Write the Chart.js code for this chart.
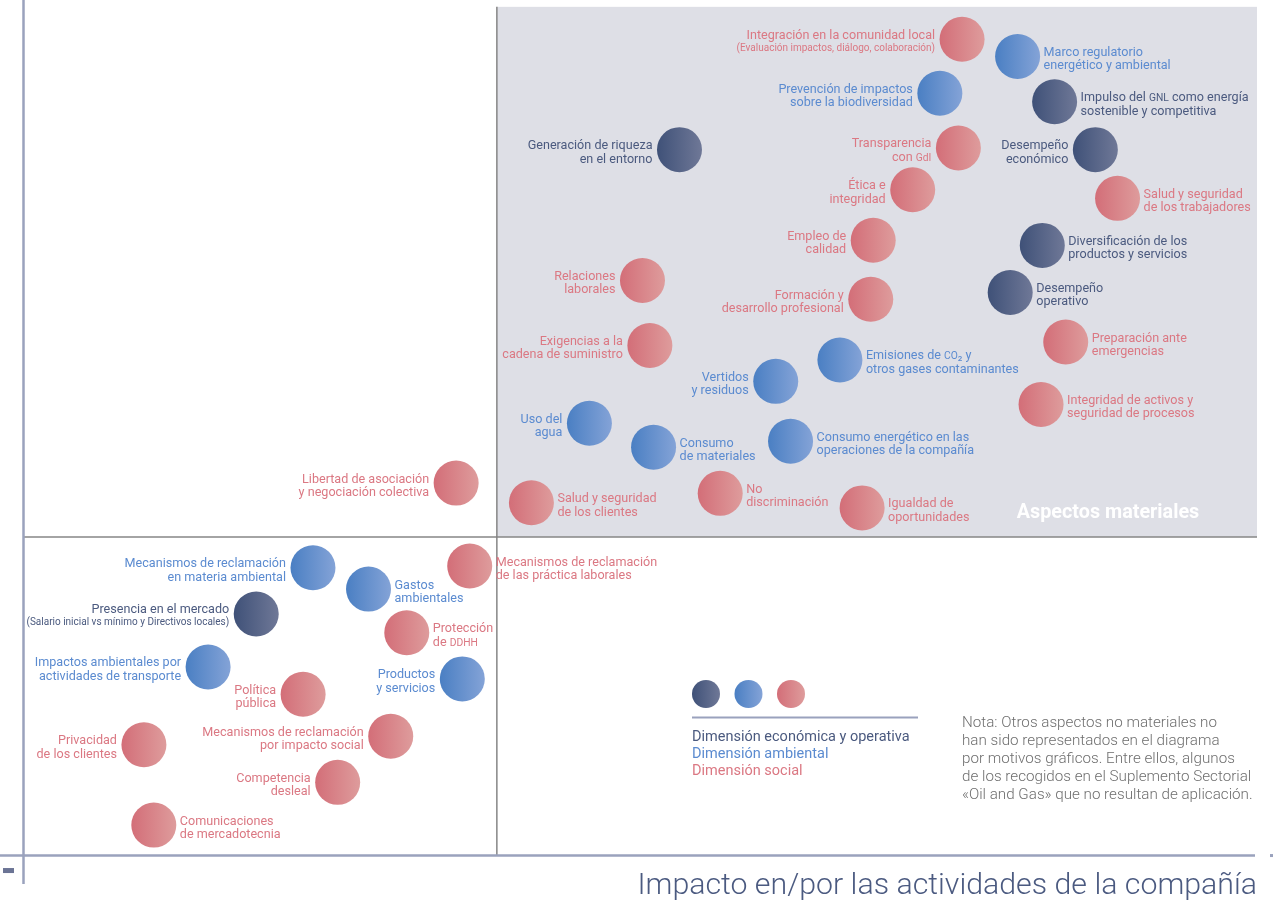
<!DOCTYPE html>
<html>
<head>
<meta charset="utf-8">
<script src="https://cdn.jsdelivr.net/npm/chart.js@4.4.1/dist/chart.umd.min.js"></script>
<style>
html,body{margin:0;padding:0;background:#ffffff;}
#wrap{width:1275px;height:902px;position:relative;}
</style>
</head>
<body>
<div id="wrap"><canvas id="c" width="1275" height="902"></canvas></div>
<script>
// ---------------- DATA ----------------
const aspectNames = [
  "Integración en la comunidad local",
  "Marco regulatorio\nenergético y ambiental",
  "Prevención de impactos\nsobre la biodiversidad",
  "Impulso del {GNL} como energía\nsostenible y competitiva",
  "Generación de riqueza\nen el entorno",
  "Transparencia\ncon {GdI}",
  "Desempeño\neconómico",
  "Ética e\nintegridad",
  "Salud y seguridad\nde los trabajadores",
  "Empleo de\ncalidad",
  "Diversificación de los\nproductos y servicios",
  "Relaciones\nlaborales",
  "Formación y\ndesarrollo profesional",
  "Desempeño\noperativo",
  "Exigencias a la\ncadena de suministro",
  "Preparación ante\nemergencias",
  "Emisiones de {CO}₂ y\notros gases contaminantes",
  "Vertidos\ny residuos",
  "Integridad de activos y\nseguridad de procesos",
  "Uso del\nagua",
  "Consumo\nde materiales",
  "Consumo energético en las\noperaciones de la compañía",
  "Libertad de asociación\ny negociación colectiva",
  "Salud y seguridad\nde los clientes",
  "No\ndiscriminación",
  "Igualdad de\noportunidades",
  "Mecanismos de reclamación\nen materia ambiental",
  "Mecanismos de reclamación\nde las práctica laborales",
  "Gastos\nambientales",
  "Presencia en el mercado",
  "Protección\nde {DDHH}",
  "Impactos ambientales por\nactividades de transporte",
  "Productos\ny servicios",
  "Política\npública",
  "Mecanismos de reclamación\npor impacto social",
  "Privacidad\nde los clientes",
  "Competencia\ndesleal",
  "Comunicaciones\nde mercadotecnia"
];
const aspectNotes = {
  0: "(Evaluación impactos, diálogo, colaboración)",
  29: "(Salario inicial vs mínimo y Directivos locales)"
};
// dimension: 0 = económica y operativa, 1 = ambiental, 2 = social
const aspectDimension = [2,1,1,0,0,2,0,2,2,2,0,2,2,0,2,2,1,1,2,1,1,1,2,2,2,2,1,2,1,0,2,1,1,2,2,2,2,2];
// X: impacto en/por las actividades de la compañía
const impactValues = [76.1,80.6,74.3,83.6,53.2,75.8,86.9,72.1,88.7,68.9,82.6,50.2,68.7,80.0,50.8,84.5,66.2,61.0,82.5,45.9,51.1,62.2,35.1,41.2,56.5,68.0,23.5,36.2,28.0,18.9,31.1,15.0,35.6,22.7,29.8,9.8,25.5,10.6];
// Y: relevancia
const relevanceValues = [95.4,93.4,89.1,88.1,82.5,82.7,82.5,77.8,76.8,71.9,71.3,67.2,65.0,65.8,59.6,60.0,57.9,55.4,52.7,50.5,47.7,48.4,43.5,41.2,42.3,40.6,33.6,33.8,31.1,28.2,26.0,22.0,20.6,18.8,13.9,12.9,8.5,3.5];
// label side: 'L' text to the left of the bubble, 'R' to the right
const labelSide = ["L","R","L","R","L","L","L","L","R","L","R","L","L","R","L","R","R","L","R","L","R","R","L","R","R","R","L","R","R","L","R","L","L","L","L","L","L","R"];
const dimensionNames = ["Dimensión económica y operativa","Dimensión ambiental","Dimensión social"];
const materialityThreshold = {x: 38.4, y: 37.2, top: 99.2};
const materialLabel = "Aspectos materiales";
const xAxisTitle = "Impacto en/por las actividades de la compañía";
const noteLines = [
  "Nota: Otros aspectos no materiales no",
  "han sido representados en el diagrama",
  "por motivos gráficos. Entre ellos, algunos",
  "de los recogidos en el Suplemento Sectorial",
  "«Oil and Gas» que no resultan de aplicación."
];

// ---------------- STYLE ----------------
const FONT = "Roboto, 'Open Sans', sans-serif";
const gradStops = [
  ["#3f5178", "#6f7897"],
  ["#4a7fc3", "#84a3d7"],
  ["#d36e78", "#de9c9c"]
];
const textColors = ["#4b5a7f", "#5b8bd0", "#db7883"];
const R = 22.5;
const LABEL_SIZE = 12.6;

function gradFor(ctx, x, r, d) {
  if (!Number.isFinite(x)) return gradStops[d][0];
  const g = ctx.createLinearGradient(x - r, 0, x + r, 0);
  g.addColorStop(0, gradStops[d][0]);
  g.addColorStop(1, gradStops[d][1]);
  return g;
}

const datasets = [0,1,2].map(d => ({
  label: dimensionNames[d],
  dim: d,
  data: aspectNames.map((n, i) => ({x: impactValues[i], y: relevanceValues[i], name: n, note: aspectNotes[i], side: labelSide[i], dim: aspectDimension[i]}))
                   .filter(p => p.dim === d),
  pointRadius: R,
  pointHoverRadius: R,
  borderWidth: 0,
  pointBorderWidth: 0,
  backgroundColor: (c) => {
    const chart = c.chart;
    if (!c.raw || !chart.scales || !chart.scales.x) return gradStops[d][0];
    const px = chart.scales.x.getPixelForValue(c.raw.x);
    return gradFor(chart.ctx, px, R, d);
  }
}));

function drawRich(ctx, text, x, y, align, size, weight) {
  const segs = [];
  text.split(/(\{[^}]*\})/).forEach(s => {
    if (!s) return;
    if (s[0] === '{') segs.push({t: s.slice(1, -1), sc: true});
    else segs.push({t: s, sc: false});
  });
  const fN = `${weight} ${size}px ${FONT}`;
  const fS = `${weight} ${Math.round(size * 0.82 * 10) / 10}px ${FONT}`;
  let w = 0;
  segs.forEach(s => { ctx.font = s.sc ? fS : fN; s.w = ctx.measureText(s.t).width; w += s.w; });
  let cx = align === 'right' ? x - w : x;
  ctx.textAlign = 'left';
  ctx.textBaseline = 'alphabetic';
  segs.forEach(s => { ctx.font = s.sc ? fS : fN; ctx.fillText(s.t, cx, y); cx += s.w; });
}

const matrixPlugin = {
  id: 'matrix',
  beforeDatasetsDraw(chart) {
    const {ctx, chartArea: a, scales: {x, y}} = chart;
    const tx = x.getPixelForValue(materialityThreshold.x);
    const ty = y.getPixelForValue(materialityThreshold.y);
    const top = y.getPixelForValue(materialityThreshold.top);
    ctx.save();
    ctx.fillStyle = "#dedfe6";
    ctx.fillRect(tx, top, a.right - tx, ty - top);
    ctx.strokeStyle = "#868686";
    ctx.lineWidth = 1.5;
    ctx.beginPath();
    ctx.moveTo(a.left, ty); ctx.lineTo(a.right, ty);
    ctx.moveTo(tx, top); ctx.lineTo(tx, a.bottom);
    ctx.stroke();
    ctx.strokeStyle = "#9aa2bd";
    ctx.lineWidth = 2.5;
    ctx.beginPath();
    ctx.moveTo(0, a.bottom + 0.5); ctx.lineTo(a.right - 2, a.bottom + 0.5);
    ctx.moveTo(a.left + 0.5, 0); ctx.lineTo(a.left + 0.5, a.bottom + 29);
    ctx.stroke();
    ctx.fillStyle = "#9aa2bd";
    ctx.fillRect(a.right + 13, a.bottom - 1, 3, 3);
    ctx.fillStyle = "#6b7495";
    ctx.fillRect(a.left - 20, a.bottom + 13, 11, 5);
    ctx.fillStyle = "#ffffff";
    ctx.font = `bold 19.8px ${FONT}`;
    ctx.textAlign = 'center';
    ctx.textBaseline = 'middle';
    ctx.fillText(materialLabel, a.right - 149, ty - 23.5);
    ctx.restore();
  },
  afterDatasetsDraw(chart) {
    const {ctx} = chart;
    ctx.save();
    chart.data.datasets.forEach((ds, di) => {
      const meta = chart.getDatasetMeta(di);
      meta.data.forEach((el, j) => {
        const p = ds.data[j];
        const right = p.side === 'R';
        const tx = el.x + (right ? 26 : -27);
        const align = right ? 'left' : 'right';
        ctx.fillStyle = textColors[ds.dim];
        const lines = p.name.split('\n');
        if (p.note) {
          drawRich(ctx, lines[0], tx, el.y - 0.5, align, LABEL_SIZE, 400);
          drawRich(ctx, p.note, tx, el.y + 11.5, align, 10, 400);
        } else if (lines.length === 2) {
          drawRich(ctx, lines[0], tx, el.y - 0.5, align, LABEL_SIZE, 400);
          drawRich(ctx, lines[1], tx, el.y + 13, align, LABEL_SIZE, 400);
        } else {
          drawRich(ctx, lines[0], tx, el.y + 4.5, align, LABEL_SIZE, 400);
        }
      });
    });
    const lx = 692, ly = 694;
    [0,1,2].forEach(d => {
      const cx = lx + 14 + d * 42.5;
      ctx.fillStyle = gradFor(ctx, cx, 14, d);
      ctx.beginPath(); ctx.arc(cx, ly, 14, 0, Math.PI * 2); ctx.fill();
    });
    ctx.strokeStyle = "#9aa2bd";
    ctx.lineWidth = 2;
    ctx.beginPath(); ctx.moveTo(lx, 717.5); ctx.lineTo(lx + 226, 717.5); ctx.stroke();
    ctx.textAlign = 'left';
    ctx.textBaseline = 'middle';
    ctx.font = `400 14.5px ${FONT}`;
    chart.data.datasets.forEach((ds, i) => {
      ctx.fillStyle = textColors[ds.dim];
      ctx.fillText(ds.label, lx, 737 + i * 17.3);
    });
    ctx.fillStyle = "#6e6e6e";
    ctx.font = `300 15.2px ${FONT}`;
    noteLines.forEach((t, i) => ctx.fillText(t, 962, 723 + i * 18));
    ctx.restore();
  }
};

new Chart(document.getElementById('c'), {
  type: 'scatter',
  data: {datasets},
  options: {
    responsive: false,
    devicePixelRatio: 1,
    animation: false,
    events: [],
    layout: {autoPadding: false, padding: {left: 23, right: 18, top: 0, bottom: 0}},
    plugins: {legend: {display: false}, tooltip: {enabled: false}},
    scales: {
      x: {
        type: 'linear', min: 0, max: 100,
        grid: {display: false, drawTicks: false},
        border: {display: false},
        ticks: {display: false},
        title: {
          display: true, text: xAxisTitle, align: 'end',
          color: "#4b5a80",
          font: {family: FONT, size: 30.3, weight: 300, lineHeight: 1.2},
          padding: {top: 13.6, bottom: -3}
        }
      },
      y: {type: 'linear', min: 0, max: 100, display: false}
    }
  },
  plugins: [matrixPlugin]
});
</script>
</body>
</html>
